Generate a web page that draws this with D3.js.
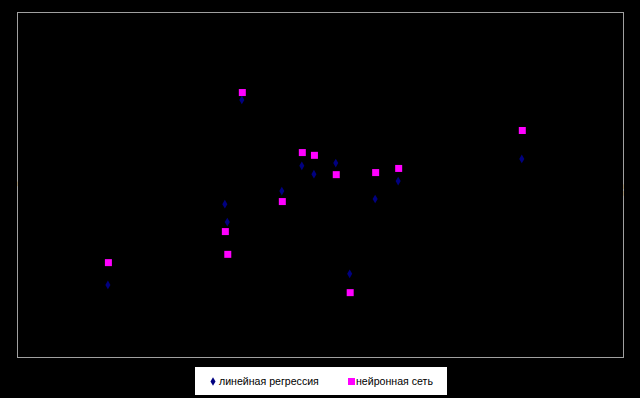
<!DOCTYPE html>
<html lang="ru">
<head>
  <meta charset="utf-8">
  <title>Регрессия и нейронная сеть</title>
  <style>
    body { margin:0; background:#000; }
    svg  { display:block; }
    text { font-family:"Liberation Sans", Arial, sans-serif; }
  </style>
</head>
<body>
<script src="https://d3js.org/d3.v7.min.js"></script>
<script>

// observed values (x) and the predictions of the two models (y)
const observed   = [15.0, 37.1, 34.3, 34.7, 43.7, 47.0, 49.0, 52.6, 54.9, 59.1, 62.9, 83.3];
const regression = [20.9, 74.5, 44.3, 39.1, 48.1, 55.4, 53.0, 56.2, 24.1, 45.8, 51.0, 57.4];
const network    = [27.5, 76.8, 36.5, 29.9, 45.2, 59.4, 58.6, 53.0, 18.8, 53.6, 54.8, 65.8];
const seriesNames = ["линейная регрессия", "нейронная сеть"];

const width = 640, height = 398;
const plot = { left: 17, top: 12, right: 623, bottom: 357 };

const svg = d3.select("body").append("svg")
  .attr("width", width)
  .attr("height", height);

svg.append("rect")
  .attr("width", width).attr("height", height)
  .attr("fill", "#000");

const x = d3.scaleLinear().domain([0, 100]).range([plot.left, plot.right]);
const y = d3.scaleLinear().domain([0, 100]).range([plot.bottom, plot.top]);

// plot area frame
svg.append("rect")
  .attr("x", plot.left + 0.5)
  .attr("y", plot.top + 0.5)
  .attr("width", plot.right - plot.left)
  .attr("height", plot.bottom - plot.top)
  .attr("fill", "none")
  .attr("stroke", "#a0a0a0")
  .attr("stroke-width", 1);

// titles are black on black, only visible where they cut the frame
const titleStyle = g => g.attr("fill", "#000").attr("stroke", "#000").attr("stroke-width", 2)
  .style("font-size", "11px").attr("text-anchor", "middle").attr("dominant-baseline", "central");
svg.append("text").call(titleStyle)
  .attr("x", 303).attr("y", 12.5).text("- - - -   -");
svg.append("text").call(titleStyle)
  .attr("x", 303).attr("y", 357.5).text("- - - -   -");
svg.append("text").call(titleStyle)
  .attr("transform", `translate(17.5,184) rotate(-90)`).text("-");
svg.append("text").call(titleStyle)
  .attr("transform", `translate(623.5,190) rotate(-90)`).text("-    -");

const pts = observed.map((v, i) => ({ x: v, reg: regression[i], net: network[i] }));

const diamond = d3.symbol().type(d3.symbolDiamond).size(22);
const square  = d3.symbol().type(d3.symbolSquare).size(49);

svg.append("g")
  .selectAll("path")
  .data(pts)
  .join("path")
    .attr("transform", d => `translate(${x(d.x)},${y(d.reg)})`)
    .attr("d", diamond)
    .attr("fill", "#000080");

svg.append("g")
  .selectAll("path")
  .data(pts)
  .join("path")
    .attr("transform", d => `translate(${x(d.x) + 0.5},${y(d.net) + 0.5})`)
    .attr("d", square)
    .attr("fill", "#ff00ff");

// legend
const legend = svg.append("g").attr("transform", "translate(195,367)");
legend.append("rect")
  .attr("width", 252).attr("height", 28)
  .attr("fill", "#fff");

legend.append("path")
  .attr("transform", "translate(18,14.5)")
  .attr("d", diamond)
  .attr("fill", "#000080");
legend.append("text")
  .attr("x", 24).attr("y", 18)
  .style("font-size", "10.6px")
  .attr("fill", "#000")
  .text(seriesNames[0]);

legend.append("path")
  .attr("transform", "translate(156.5,14.5)")
  .attr("d", square)
  .attr("fill", "#ff00ff");
legend.append("text")
  .attr("x", 161).attr("y", 18)
  .style("font-size", "10.6px")
  .attr("fill", "#000")
  .text(seriesNames[1]);

</script>
</body>
</html>
